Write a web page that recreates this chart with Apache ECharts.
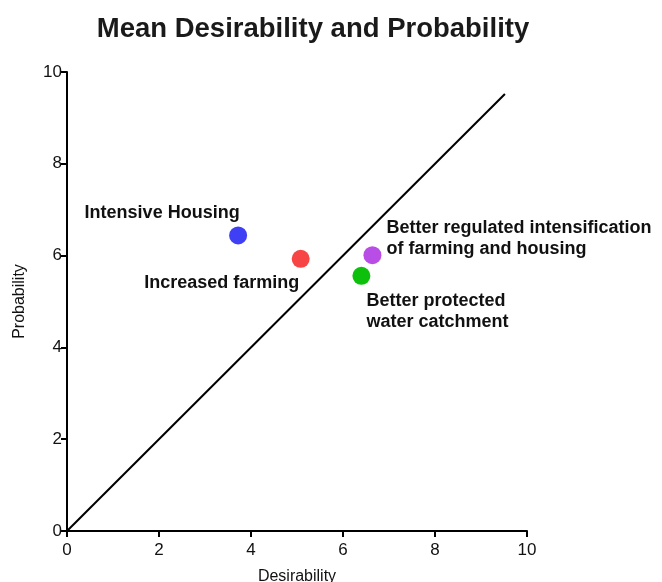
<!DOCTYPE html>
<html>
<head>
<meta charset="utf-8">
<script src="https://cdn.jsdelivr.net/npm/echarts@6/dist/echarts.min.js"></script>
<style>html,body{margin:0;padding:0;background:#fff;}#c{width:662px;height:582px;}</style>
</head>
<body>
<div id="c"></div>
<script>
const names = ['Intensive Housing', 'Increased farming', 'Better regulated intensification\nof farming and housing', 'Better protected\nwater catchment'];
const desirability = [3.72, 5.08, 6.64, 6.40];
const probability = [6.44, 5.93, 6.01, 5.56];
const colors = ['#3f3ff5', '#f74444', '#b94ee6', '#0cc00c'];
const diagonal = [[0, 0], [9.52, 9.52]];
const xTicks = [0, 2, 4, 6, 8, 10];
const yTicks = [0, 2, 4, 6, 8, 10];

const labelOffsets = [[-76, -22], [-79, 24], [14, -16.5], [5, 36]];
const labelAligns = ['center', 'center', 'left', 'left'];

const chart = echarts.init(document.getElementById('c'));
const font = 'Liberation Sans, Arial, sans-serif';
chart.setOption({
  animation: false,
  title: {
    text: 'Mean Desirability and Probability',
    left: 308, top: 10, textAlign: 'center',
    textStyle: { fontFamily: font, fontSize: 27.5, fontWeight: 'bold', color: '#1a1a1a' }
  },
  grid: { left: 67, right: 135, top: 72, bottom: 51, containLabel: false, outerBoundsMode: 'none' },
  xAxis: {
    type: 'value', min: 0, max: 10, interval: 2,
    name: 'Desirability', nameLocation: 'middle', nameGap: 38,
    nameTextStyle: { fontFamily: font, fontSize: 16, color: '#111' },
    axisLine: { show: true, lineStyle: { color: '#000', width: 2 } },
    axisTick: { show: true, length: 6, lineStyle: { color: '#000', width: 2 } },
    axisLabel: { margin: 11, fontFamily: font, fontSize: 17, color: '#111',
      formatter: v => xTicks.includes(v) ? String(v) : '' },
    splitLine: { show: false }
  },
  yAxis: {
    type: 'value', min: 0, max: 10, interval: 2,
    name: 'Probability', nameLocation: 'middle', nameGap: 39,
    nameTextStyle: { fontFamily: font, fontSize: 16, color: '#111' },
    axisLine: { show: true, lineStyle: { color: '#000', width: 2 } },
    axisTick: { show: true, length: 6, lineStyle: { color: '#000', width: 2 } },
    axisLabel: { margin: 5, fontFamily: font, fontSize: 17, color: '#111',
      formatter: v => yTicks.includes(v) ? String(v) : '' },
    splitLine: { show: false }
  },
  series: [
    {
      type: 'line', data: diagonal, symbol: 'none',
      lineStyle: { color: '#000', width: 2 }, z: 1
    },
    {
      type: 'scatter', symbolSize: 18, z: 3,
      data: names.map((n, i) => ({
        name: n,
        value: [desirability[i], probability[i]],
        itemStyle: { color: colors[i], opacity: 1 },
        label: {
          show: true, position: 'inside', offset: labelOffsets[i], align: labelAligns[i],
          verticalAlign: 'middle', formatter: n,
          fontFamily: font, fontSize: 18, fontWeight: 'bold', color: '#111', lineHeight: 21
        }
      }))
    }
  ]
});
</script>
</body>
</html>
